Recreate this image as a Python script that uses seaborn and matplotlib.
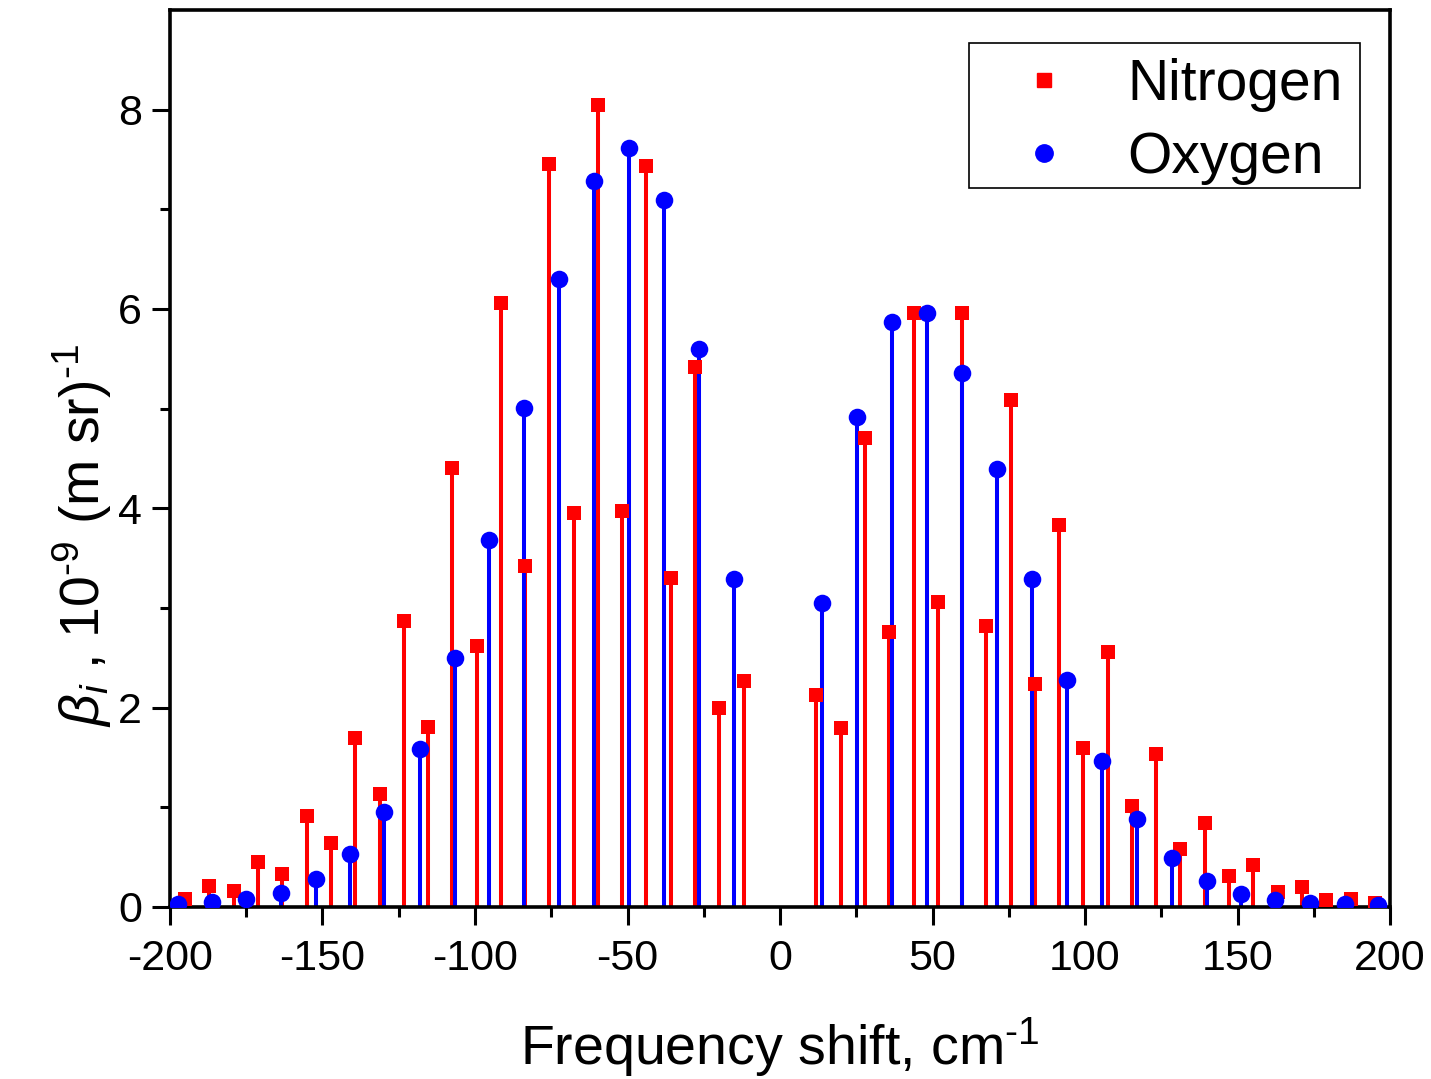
import numpy as np
import pandas as pd
import matplotlib
matplotlib.use("Agg")
import matplotlib.pyplot as plt
from matplotlib.lines import Line2D
from matplotlib.patches import Rectangle
import seaborn as sns

# ---- data ----
n2_shift = [-195.0, -187.1, -179.1, -171.1, -163.2, -155.2, -147.3, -139.3, -131.3, -123.4,
            -115.4, -107.5, -99.5, -91.5, -83.6, -75.6, -67.7, -59.7, -51.7, -43.8,
            -35.8, -27.9, -19.9, -11.9,
            11.9, 19.9, 27.9, 35.8, 43.8, 51.7, 59.7, 67.7, 75.6, 83.6,
            91.5, 99.5, 107.5, 115.4, 123.4, 131.3, 139.3, 147.3, 155.2, 163.2,
            171.1, 179.1, 187.1, 195.0]
n2_beta = [0.08, 0.21, 0.16, 0.45, 0.33, 0.91, 0.64, 1.70, 1.13, 2.87,
           1.81, 4.40, 2.62, 6.06, 3.42, 7.45, 3.95, 8.05, 3.97, 7.43,
           3.30, 5.42, 2.00, 2.27,
           2.13, 1.80, 4.71, 2.76, 5.96, 3.06, 5.96, 2.82, 5.09, 2.24,
           3.83, 1.60, 2.56, 1.01, 1.54, 0.58, 0.84, 0.31, 0.42, 0.15,
           0.20, 0.07, 0.08, 0.04]

o2_shift = [-197.4, -186.2, -175.1, -163.6, -152.1, -141.0, -129.8, -118.0, -106.6, -95.4,
            -83.9, -72.5, -61.0, -49.5, -38.0, -26.6, -15.1,
            13.8, 25.2, 36.7, 48.2, 59.7, 71.1, 82.6, 94.1, 105.6, 117.0,
            128.5, 140.0, 151.1, 162.3, 173.8, 185.2, 196.0]
o2_beta = [0.03, 0.05, 0.08, 0.14, 0.28, 0.53, 0.95, 1.59, 2.50, 3.68,
           5.01, 6.30, 7.28, 7.62, 7.09, 5.60, 3.29,
           3.05, 4.92, 5.87, 5.96, 5.36, 4.39, 3.29, 2.28, 1.46, 0.88,
           0.49, 0.26, 0.13, 0.07, 0.04, 0.03, 0.02]

series_names = ["Nitrogen", "Oxygen"]
series_colors = ["#ff0000", "#0000ff"]

x_ticks = [-200, -150, -100, -50, 0, 50, 100, 150, 200]
y_ticks = [0, 2, 4, 6, 8]

df = pd.concat([
    pd.DataFrame({"shift": n2_shift, "beta": n2_beta, "gas": series_names[0]}),
    pd.DataFrame({"shift": o2_shift, "beta": o2_beta, "gas": series_names[1]}),
], ignore_index=True)

sns.set_theme(style="ticks")
plt.rcParams["font.family"] = ["Liberation Sans", "DejaVu Sans"]
plt.rcParams["mathtext.fontset"] = "custom"
plt.rcParams["mathtext.rm"] = "Liberation Sans"
plt.rcParams["mathtext.it"] = "Liberation Sans:italic"
plt.rcParams["mathtext.bf"] = "Liberation Sans:bold"
plt.rcParams["axes.unicode_minus"] = False
for k in ["text.color", "axes.labelcolor", "xtick.color", "ytick.color",
          "xtick.labelcolor", "ytick.labelcolor", "axes.edgecolor"]:
    plt.rcParams[k] = "black"

W, H = 1431, 1079
fig = plt.figure(figsize=(W / 100, H / 100), dpi=100)
ax = fig.add_axes([170 / W, 1 - 907 / H, 1220 / W, 897 / H])

# stems
for name, col in zip(series_names, series_colors):
    sub = df[df["gas"] == name]
    ax.vlines(sub["shift"], 0, sub["beta"], colors=col, linewidth=2.9, zorder=2)

# markers
markers = {"Nitrogen": "s", "Oxygen": "o"}
sizes = {"Nitrogen": 100, "Oxygen": 160}
for name, col in zip(series_names, series_colors):
    sub = df[df["gas"] == name]
    sns.scatterplot(data=sub, x="shift", y="beta", marker=markers[name], color=col,
                    s=sizes[name], linewidth=0, ax=ax, zorder=3, legend=False)

ax.set_xlim(-200, 200)
ax.set_ylim(0, 9)
ax.set_xticks(x_ticks)
ax.set_yticks(y_ticks)
ax.set_xticks(np.arange(-175, 200, 50), minor=True)
ax.set_yticks([1, 3, 5, 7], minor=True)
ax.tick_params(axis="both", which="major", direction="out", length=13, width=2.2,
               labelsize=31, pad=7, colors="black")
ax.tick_params(axis="x", which="major", pad=10)
ax.tick_params(axis="both", which="minor", direction="out", length=7, width=2.2)
ax.tick_params(top=False, right=False, which="both")
for sp in ax.spines.values():
    sp.set_visible(True)
    sp.set_linewidth(2.6)
    sp.set_color("black")

hy = "\u2010"
ax.set_xlabel("Frequency shift, cm$^{" + hy + "1}$", fontsize=40)
ax.set_ylabel(r"$\beta_i$ , 10$^{" + hy + "9}$ (m sr)$^{" + hy + "1}$", fontsize=40)
ax.xaxis.set_label_coords(0.5, -(1047 - 907) / 897, transform=ax.transAxes)
ax.xaxis.label.set_va("center")
ax.yaxis.set_label_coords(-(170 - 82) / 1220, (907 - 535) / 897, transform=ax.transAxes)
ax.yaxis.label.set_va("center")

handles = [Line2D([], [], linestyle="none", marker="s", color=series_colors[0], markersize=10),
           Line2D([], [], linestyle="none", marker="o", color=series_colors[1], markersize=12.5)]
leg = ax.legend(handles, series_names, loc="upper left",
                bbox_to_anchor=(1001.3 / W, 1 - 58.4 / H), bbox_transform=fig.transFigure,
                borderaxespad=0, fontsize=41, frameon=False,
                borderpad=0, labelspacing=0.32, handlelength=1.5, handletextpad=0.715)
fig.add_artist(Rectangle((969 / W, 1 - 188 / H), 391 / W, 145 / H,
                         transform=fig.transFigure, fill=False,
                         edgecolor="black", linewidth=1.2, zorder=5))

fig.savefig("out.png", dpi=100)
